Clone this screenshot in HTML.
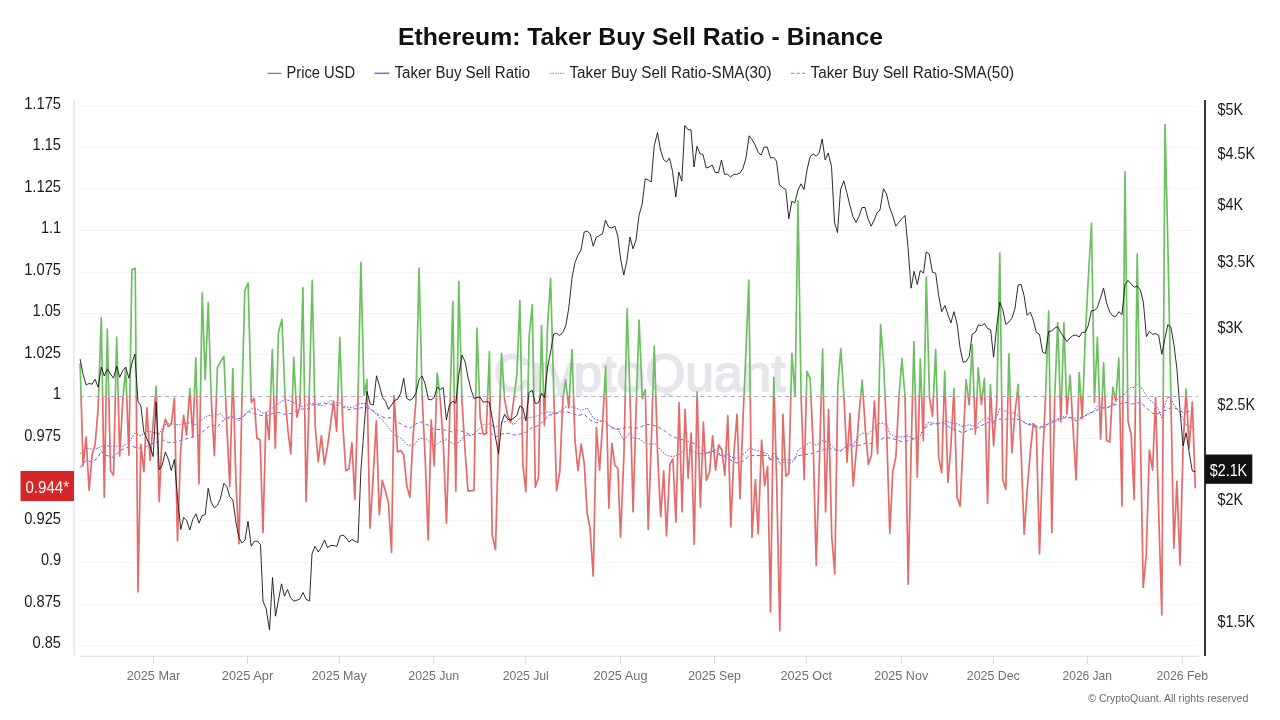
<!DOCTYPE html>
<html lang="en"><head><meta charset="utf-8"><title>Ethereum: Taker Buy Sell Ratio - Binance</title>
<style>
html,body{margin:0;padding:0;background:#fff;}
body{width:1280px;height:720px;overflow:hidden;font-family:"Liberation Sans", sans-serif;}
svg{display:block;}
text{font-family:"Liberation Sans", sans-serif;}
.yl{font-size:16.5px;fill:#1a1a1a;text-anchor:end;}
.yr{font-size:16.5px;fill:#1a1a1a;text-anchor:start;}
.xl{font-size:12.6px;fill:#6e7079;text-anchor:middle;}
.lg{font-size:16px;fill:#222;}
</style></head><body>
<svg width="1280" height="720" viewBox="0 0 1280 720">
<defs>
<clipPath id="up"><rect x="70" y="90" width="1140" height="306.20"/></clipPath>
<clipPath id="dn"><rect x="70" y="396.20" width="1140" height="300"/></clipPath>
</defs>
<rect width="1280" height="720" fill="#ffffff"/>

<text x="640.5" y="45" text-anchor="middle" font-size="24.5" font-weight="700" fill="#111" textLength="485" lengthAdjust="spacingAndGlyphs">Ethereum: Taker Buy Sell Ratio - Binance</text>
<line x1="267.5" y1="73.3" x2="281.5" y2="73.3" stroke="#333" stroke-width="0.8"/>
<text class="lg" x="286.5" y="77.5" textLength="68.5" lengthAdjust="spacingAndGlyphs">Price USD</text>
<line x1="374.5" y1="73.3" x2="389.5" y2="73.3" stroke="#7b68ee" stroke-width="1.5"/>
<text class="lg" x="394.5" y="77.5" textLength="135.5" lengthAdjust="spacingAndGlyphs">Taker Buy Sell Ratio</text>
<line x1="550" y1="73.3" x2="564" y2="73.3" stroke="#8c7cf0" stroke-width="1" stroke-dasharray="1.5 1"/>
<text class="lg" x="569.5" y="77.5" textLength="202" lengthAdjust="spacingAndGlyphs">Taker Buy Sell Ratio-SMA(30)</text>
<line x1="791" y1="73.3" x2="805" y2="73.3" stroke="#8c7cf0" stroke-width="1" stroke-dasharray="3.5 2"/>
<text class="lg" x="810.5" y="77.5" textLength="203.5" lengthAdjust="spacingAndGlyphs">Taker Buy Sell Ratio-SMA(50)</text>
<line x1="80" y1="645.50" x2="1198" y2="645.50" stroke="#f5f5f8" stroke-width="1"/>
<text class="yl" x="61" y="648.40" textLength="28.4" lengthAdjust="spacingAndGlyphs">0.85</text>
<line x1="80" y1="604.50" x2="1198" y2="604.50" stroke="#f5f5f8" stroke-width="1"/>
<text class="yl" x="61" y="606.90" textLength="36.8" lengthAdjust="spacingAndGlyphs">0.875</text>
<line x1="80" y1="562.50" x2="1198" y2="562.50" stroke="#f5f5f8" stroke-width="1"/>
<text class="yl" x="61" y="565.40" textLength="20.1" lengthAdjust="spacingAndGlyphs">0.9</text>
<line x1="80" y1="520.50" x2="1198" y2="520.50" stroke="#f5f5f8" stroke-width="1"/>
<text class="yl" x="61" y="523.90" textLength="36.8" lengthAdjust="spacingAndGlyphs">0.925</text>
<line x1="80" y1="479.50" x2="1198" y2="479.50" stroke="#f5f5f8" stroke-width="1"/>
<line x1="80" y1="438.50" x2="1198" y2="438.50" stroke="#f5f5f8" stroke-width="1"/>
<text class="yl" x="61" y="440.90" textLength="36.8" lengthAdjust="spacingAndGlyphs">0.975</text>
<text class="yl" x="61" y="399.40" textLength="8.3" lengthAdjust="spacingAndGlyphs">1</text>
<line x1="80" y1="354.50" x2="1198" y2="354.50" stroke="#f5f5f8" stroke-width="1"/>
<text class="yl" x="61" y="357.90" textLength="36.8" lengthAdjust="spacingAndGlyphs">1.025</text>
<line x1="80" y1="313.50" x2="1198" y2="313.50" stroke="#f5f5f8" stroke-width="1"/>
<text class="yl" x="61" y="316.40" textLength="28.4" lengthAdjust="spacingAndGlyphs">1.05</text>
<line x1="80" y1="272.50" x2="1198" y2="272.50" stroke="#f5f5f8" stroke-width="1"/>
<text class="yl" x="61" y="274.90" textLength="36.8" lengthAdjust="spacingAndGlyphs">1.075</text>
<line x1="80" y1="230.50" x2="1198" y2="230.50" stroke="#f5f5f8" stroke-width="1"/>
<text class="yl" x="61" y="233.40" textLength="20.1" lengthAdjust="spacingAndGlyphs">1.1</text>
<line x1="80" y1="188.50" x2="1198" y2="188.50" stroke="#f5f5f8" stroke-width="1"/>
<text class="yl" x="61" y="191.90" textLength="36.8" lengthAdjust="spacingAndGlyphs">1.125</text>
<line x1="80" y1="147.50" x2="1198" y2="147.50" stroke="#f5f5f8" stroke-width="1"/>
<text class="yl" x="61" y="150.40" textLength="28.4" lengthAdjust="spacingAndGlyphs">1.15</text>
<line x1="80" y1="106.50" x2="1198" y2="106.50" stroke="#f5f5f8" stroke-width="1"/>
<text class="yl" x="61" y="108.90" textLength="36.8" lengthAdjust="spacingAndGlyphs">1.175</text>
<text clip-path="url(#up)" x="493.5" y="391.3" font-size="52" fill="#e5e5eb" stroke="#e5e5eb" stroke-width="1.8" stroke-linejoin="round" textLength="292" lengthAdjust="spacingAndGlyphs">CryptoQuant</text>
<line x1="74" y1="100" x2="74" y2="655.5" stroke="#d5d5e3" stroke-width="0.9"/>
<line x1="80" y1="656.25" x2="1199" y2="656.25" stroke="#d5d5e3" stroke-width="0.9"/>
<line x1="153.50" y1="656" x2="153.50" y2="664" stroke="#d5d5e3" stroke-width="1"/>
<text class="xl" x="153.50" y="680" textLength="53.5" lengthAdjust="spacingAndGlyphs">2025 Mar</text>
<line x1="247.50" y1="656" x2="247.50" y2="664" stroke="#d5d5e3" stroke-width="1"/>
<text class="xl" x="247.50" y="680" textLength="51.5" lengthAdjust="spacingAndGlyphs">2025 Apr</text>
<line x1="339.25" y1="656" x2="339.25" y2="664" stroke="#d5d5e3" stroke-width="1"/>
<text class="xl" x="339.25" y="680" textLength="55.0" lengthAdjust="spacingAndGlyphs">2025 May</text>
<line x1="433.75" y1="656" x2="433.75" y2="664" stroke="#d5d5e3" stroke-width="1"/>
<text class="xl" x="433.75" y="680" textLength="51.0" lengthAdjust="spacingAndGlyphs">2025 Jun</text>
<line x1="525.75" y1="656" x2="525.75" y2="664" stroke="#d5d5e3" stroke-width="1"/>
<text class="xl" x="525.75" y="680" textLength="46.0" lengthAdjust="spacingAndGlyphs">2025 Jul</text>
<line x1="620.50" y1="656" x2="620.50" y2="664" stroke="#d5d5e3" stroke-width="1"/>
<text class="xl" x="620.50" y="680" textLength="54.0" lengthAdjust="spacingAndGlyphs">2025 Aug</text>
<line x1="714.50" y1="656" x2="714.50" y2="664" stroke="#d5d5e3" stroke-width="1"/>
<text class="xl" x="714.50" y="680" textLength="53.0" lengthAdjust="spacingAndGlyphs">2025 Sep</text>
<line x1="806.25" y1="656" x2="806.25" y2="664" stroke="#d5d5e3" stroke-width="1"/>
<text class="xl" x="806.25" y="680" textLength="51.5" lengthAdjust="spacingAndGlyphs">2025 Oct</text>
<line x1="901.25" y1="656" x2="901.25" y2="664" stroke="#d5d5e3" stroke-width="1"/>
<text class="xl" x="901.25" y="680" textLength="54.0" lengthAdjust="spacingAndGlyphs">2025 Nov</text>
<line x1="993.25" y1="656" x2="993.25" y2="664" stroke="#d5d5e3" stroke-width="1"/>
<text class="xl" x="993.25" y="680" textLength="53.0" lengthAdjust="spacingAndGlyphs">2025 Dec</text>
<line x1="1087.25" y1="656" x2="1087.25" y2="664" stroke="#d5d5e3" stroke-width="1"/>
<text class="xl" x="1087.25" y="680" textLength="49.5" lengthAdjust="spacingAndGlyphs">2026 Jan</text>
<line x1="1182.25" y1="656" x2="1182.25" y2="664" stroke="#d5d5e3" stroke-width="1"/>
<text class="xl" x="1182.25" y="680" textLength="51.5" lengthAdjust="spacingAndGlyphs">2026 Feb</text>
<line x1="80.5" y1="396.50" x2="1198" y2="396.50" stroke="#b0b0c8" stroke-width="1" stroke-dasharray="4.2 3.55" stroke-dashoffset="0.75"/>
<polyline fill="none" stroke="#6c5cf6" stroke-width="1" stroke-dasharray="1.7 1.3" points="80.1,453.8 86.1,448.1 92.1,449.1 98.1,448.1 104.1,445.3 110.5,446.2 116.3,446.2 122.9,446.2 128.9,442.5 134.9,433.1 140.9,435.9 146.9,431.2 152.9,432.2 159.2,434.1 164.1,424.7 169.8,423.4 177.2,424.7 183.8,423.8 189.8,422.8 196.0,424.7 201.6,420.0 208.2,415.3 214.8,416.2 220.4,413.4 226.0,420.0 232.8,416.2 239.1,420.9 244.8,414.4 251.3,408.8 256.9,408.8 263.5,413.4 269.1,410.6 275.3,405.9 281.9,401.2 285.1,399.4 290.9,401.2 296.9,404.1 302.9,406.9 309.1,404.1 312.2,403.1 318.2,405.0 324.4,405.9 330.6,400.3 333.6,402.2 339.8,403.1 345.8,406.9 351.9,407.8 357.9,404.1 364.1,403.1 366.9,404.1 370.3,408.8 376.3,414.4 382.3,420.0 388.5,427.5 394.5,435.0 400.7,437.8 406.7,444.4 412.9,446.2 419.1,438.8 425.1,437.8 431.2,443.4 434.2,446.2 440.2,441.6 446.4,439.7 452.8,443.4 455.8,445.3 462.0,438.8 465.0,435.0 471.0,435.9 477.0,431.2 483.2,424.7 489.4,423.8 495.4,427.5 501.6,422.8 507.6,420.9 513.8,424.7 519.9,418.1 525.9,418.1 532.3,417.2 538.5,415.3 541.4,413.4 544.5,413.4 547.6,411.6 553.6,413.4 559.8,411.6 565.8,406.9 572.0,406.9 578.0,408.8 581.2,410.6 587.2,407.8 593.4,418.1 599.6,420.9 605.6,420.9 611.8,428.4 617.9,429.4 623.9,440.6 630.1,432.2 633.1,437.8 639.1,438.8 645.3,443.4 651.5,444.4 654.5,443.4 660.7,450.0 666.7,455.6 672.9,456.6 679.1,454.7 685.1,449.1 691.2,450.0 697.2,453.8 703.4,453.8 709.6,452.8 715.6,450.0 721.8,455.6 727.8,454.7 734.0,458.4 740.0,457.5 746.2,451.9 749.2,448.1 755.4,450.0 761.6,451.9 767.6,453.8 770.7,460.3 773.7,452.8 776.7,455.6 779.7,464.1 785.9,461.2 788.9,464.1 795.1,459.4 798.1,450.0 804.2,446.2 810.2,442.5 816.4,445.3 822.6,440.6 828.6,442.5 834.8,449.1 840.8,450.9 847.0,445.3 853.2,444.4 859.2,435.9 862.2,433.1 868.4,434.1 874.4,427.5 880.6,422.8 886.8,424.7 889.8,434.1 895.9,436.9 901.9,436.9 908.1,435.9 914.3,438.8 920.3,435.9 926.5,423.8 929.5,421.9 935.7,423.8 941.7,422.8 944.9,420.9 950.9,422.8 957.1,423.8 963.1,426.6 969.2,424.7 975.4,426.6 981.4,420.9 984.4,418.1 990.6,419.1 993.6,423.8 999.8,408.8 1002.8,409.7 1008.9,413.4 1014.9,412.5 1021.1,420.0 1027.1,423.8 1033.3,423.8 1039.5,428.4 1045.5,426.6 1051.7,420.9 1057.7,420.9 1063.9,416.2 1070.1,418.1 1076.1,418.1 1082.2,417.2 1088.2,414.4 1094.4,410.6 1097.4,405.9 1103.6,408.8 1109.8,406.9 1115.8,401.2 1118.8,398.4 1123.5,396.2 1128.0,389.5 1131.2,387.2 1134.2,387.6 1137.2,383.9 1140.4,386.7 1143.4,390.4 1146.9,396.2 1149.4,399.4 1155.6,405.0 1158.6,409.7 1161.8,418.1 1164.8,405.0 1167.8,396.6 1170.9,398.4 1173.9,405.0 1179.9,412.5 1186.1,424.7 1192.3,427.5 1195.3,430.3"/>
<polyline fill="none" stroke="#6c5cf6" stroke-width="1" stroke-dasharray="3.6 2.6" points="80.1,467.8 86.1,460.3 92.1,462.2 98.1,457.5 101.3,450.9 104.1,454.7 110.5,456.6 113.5,457.5 119.7,450.9 125.7,448.1 131.9,446.2 137.9,448.1 143.9,448.1 150.1,444.4 156.2,442.5 162.2,439.7 168.4,442.5 174.4,442.5 180.6,440.6 186.6,438.8 192.8,436.9 199.0,435.0 205.4,429.4 211.2,424.7 217.4,426.6 223.9,420.0 229.8,416.2 235.9,419.1 241.9,418.1 248.1,411.6 254.1,413.4 260.1,415.3 266.1,416.2 272.3,413.4 278.5,412.5 285.1,414.4 290.9,413.4 296.9,410.6 302.9,408.8 309.1,408.8 312.2,405.0 318.2,404.1 324.4,403.1 330.6,404.1 336.6,405.0 342.8,406.9 348.9,409.7 354.9,408.8 360.9,407.8 366.9,407.8 373.3,410.6 379.3,415.3 385.5,418.1 391.5,417.8 397.5,421.9 403.7,425.6 409.9,428.4 415.9,423.8 422.2,421.9 428.4,425.6 434.2,429.4 440.2,429.4 446.4,430.3 452.8,432.2 458.8,430.3 465.0,432.2 471.0,435.0 477.0,433.1 483.2,434.1 489.4,432.2 495.4,436.9 501.6,434.1 507.6,433.1 513.8,435.0 519.9,434.1 525.9,432.2 532.3,427.5 538.5,425.6 541.4,422.8 544.5,420.9 547.6,415.3 553.6,414.4 559.8,412.5 565.8,411.6 572.0,413.4 578.0,415.3 584.2,414.4 590.4,420.0 596.4,422.8 602.6,420.9 608.8,425.6 614.8,428.4 620.9,429.4 627.1,426.6 633.1,428.4 639.1,427.5 645.3,424.7 651.5,424.7 657.5,426.6 663.7,430.3 669.9,435.0 675.9,437.8 682.1,439.7 688.1,441.6 694.2,443.4 700.4,448.1 706.4,452.8 712.6,450.9 718.6,454.7 724.8,456.6 731.0,460.3 737.0,463.1 743.2,461.2 749.2,455.6 755.4,455.6 761.6,455.6 767.6,455.6 770.7,461.2 773.7,456.6 779.7,459.4 785.9,459.4 791.9,460.3 798.1,455.6 804.2,454.7 810.2,453.8 816.4,451.9 822.6,450.0 828.6,448.1 834.8,450.0 840.8,450.9 847.0,446.2 853.2,446.2 859.2,445.3 865.4,443.4 871.4,443.4 877.6,441.6 883.8,437.8 889.8,437.8 895.9,439.7 901.9,441.6 908.1,440.6 914.3,438.8 920.3,434.1 926.5,426.6 932.5,423.8 938.7,423.8 944.9,423.8 950.9,428.4 957.1,430.3 963.1,433.1 969.2,429.4 975.4,428.4 981.4,425.6 987.6,422.8 993.6,421.9 999.8,419.1 1002.8,419.1 1008.9,419.1 1014.9,419.1 1021.1,420.0 1027.1,424.7 1033.3,424.7 1039.5,427.5 1045.5,424.7 1051.7,422.8 1057.7,419.1 1063.9,418.1 1070.1,417.2 1076.1,420.9 1082.2,418.1 1088.2,413.4 1094.4,411.6 1100.6,407.8 1106.6,407.8 1112.8,405.0 1118.8,404.1 1125.0,402.2 1131.2,404.1 1137.2,403.1 1140.4,402.2 1146.4,407.8 1152.6,413.4 1158.6,413.4 1164.8,410.6 1170.9,407.8 1176.9,408.8 1183.1,412.5 1189.1,411.6 1193.8,408.8"/>
<polyline clip-path="url(#up)" fill="none" stroke="#6cc060" stroke-width="1.7" stroke-linejoin="round" points="80.1,363.2 83.1,465.9 86.1,437.2 89.1,490.3 92.1,454.7 95.1,444.8 98.1,408.8 101.3,317.7 104.3,497.2 107.3,329.1 110.5,470.6 113.5,475.3 116.7,337.0 119.7,456.0 122.7,401.2 125.7,368.9 128.9,455.2 131.9,269.5 135.2,268.4 138.0,591.8 140.9,444.4 143.9,471.6 146.9,407.8 150.1,460.3 153.1,423.8 156.2,386.3 159.2,501.6 162.2,433.1 165.4,419.1 168.4,426.6 171.4,423.8 174.4,398.4 177.5,540.8 180.6,451.9 183.6,415.3 186.6,435.0 189.8,388.6 192.8,436.9 195.8,357.8 199.0,483.8 202.2,292.9 205.2,379.8 208.2,302.7 211.2,397.5 214.4,455.6 217.4,367.6 220.8,361.4 223.9,356.5 226.9,427.5 229.8,486.6 232.8,368.5 235.9,480.0 239.0,543.8 241.9,401.2 244.8,290.5 248.1,283.0 251.3,402.2 254.1,398.4 256.9,438.4 260.1,439.7 263.0,532.5 266.1,412.5 269.1,439.7 272.3,349.4 275.3,448.1 278.5,332.3 281.9,319.2 285.1,397.5 287.9,430.3 290.9,453.8 293.7,357.4 296.9,417.2 299.9,405.9 302.9,287.7 306.1,501.6 309.1,401.2 312.2,280.4 315.2,425.6 318.2,461.8 321.4,435.6 324.4,464.6 327.6,446.2 330.6,423.8 333.6,401.2 336.6,431.2 339.8,337.4 342.8,423.8 345.8,470.6 348.9,469.1 351.9,442.9 354.9,499.3 357.9,401.2 360.9,262.4 364.1,395.5 366.9,379.6 370.0,528.2 373.3,474.4 376.3,420.9 379.3,514.7 382.3,480.4 385.5,491.2 388.5,503.4 391.5,552.5 394.1,395.5 397.5,451.9 400.7,450.4 403.7,454.7 406.7,485.6 409.9,497.2 412.9,438.8 415.9,401.2 419.1,268.2 422.2,397.5 425.4,463.1 428.2,540.0 431.2,420.0 434.2,465.9 437.2,373.0 440.2,398.4 443.4,446.2 446.5,523.2 449.4,427.5 452.8,301.4 455.8,491.2 458.8,281.3 462.0,401.2 465.0,450.0 468.0,491.2 471.0,490.7 474.0,490.3 477.0,328.2 480.2,418.1 483.2,434.4 486.2,433.5 489.4,351.6 492.2,535.0 495.5,549.5 498.6,436.9 501.6,353.3 504.6,399.4 507.6,415.3 510.8,422.2 513.8,399.4 516.9,374.5 519.9,300.6 522.9,465.0 525.9,491.8 529.1,337.0 532.3,304.6 535.3,487.1 538.5,477.2 541.5,325.4 544.4,425.6 547.6,325.8 550.6,278.5 554.0,401.2 556.6,490.7 559.8,471.6 562.8,399.4 565.6,379.8 568.8,407.8 572.0,349.4 575.0,440.6 578.0,470.6 581.2,444.0 584.2,463.1 587.2,513.8 590.0,527.5 593.2,576.2 596.4,427.5 599.6,470.2 602.6,423.8 605.6,366.2 608.8,508.1 611.8,443.4 614.8,465.0 617.9,468.8 620.5,537.5 623.9,455.6 627.1,308.9 630.1,398.4 633.1,511.9 636.1,408.8 639.1,320.1 642.3,398.4 645.3,389.5 648.2,529.5 651.5,436.9 654.3,346.0 657.5,451.9 660.7,516.6 663.7,471.0 666.5,536.0 669.9,464.1 672.9,459.0 675.9,522.2 679.1,402.8 682.1,511.9 685.1,409.3 688.1,478.1 691.2,433.1 694.2,544.5 697.1,391.9 700.4,507.2 703.4,422.2 706.4,480.4 709.6,471.6 712.6,435.9 715.6,470.2 718.6,444.8 721.8,450.0 724.8,475.3 727.8,415.7 730.8,527.0 734.0,451.9 737.0,414.4 740.0,498.8 743.2,414.4 746.0,350.1 748.8,280.2 752.0,537.5 755.4,479.6 758.2,533.8 761.6,440.2 764.6,485.6 767.6,466.5 770.5,612.0 773.8,377.3 776.7,483.8 779.8,630.8 782.9,414.4 785.9,476.2 788.9,473.4 791.9,353.3 795.1,396.2 798.0,200.5 801.1,397.5 804.2,479.6 806.9,371.3 810.2,378.6 813.4,451.9 816.2,565.5 819.4,461.2 822.6,348.8 825.6,511.9 828.6,409.7 831.8,537.5 834.8,574.0 837.8,385.8 840.8,348.6 844.0,397.5 847.0,462.2 850.0,413.4 853.2,486.0 856.2,451.9 859.2,412.5 862.2,380.1 865.4,430.3 868.4,464.4 871.4,455.6 874.4,401.2 877.6,453.8 880.6,324.4 883.8,367.0 886.8,436.9 889.8,533.2 892.8,471.6 895.9,456.6 898.9,397.5 901.9,358.4 905.1,397.5 908.2,584.2 911.1,451.9 913.9,341.5 917.3,477.2 920.3,358.9 923.3,440.6 926.3,277.0 929.5,397.5 932.5,416.2 935.7,349.6 938.7,457.5 941.7,472.5 944.7,371.1 947.9,482.4 950.9,446.2 953.9,388.6 957.1,497.2 960.1,506.2 963.1,442.5 966.1,379.6 969.2,405.0 972.2,344.5 975.4,434.1 978.2,367.9 981.4,404.1 984.4,378.6 987.6,503.4 990.4,384.8 993.6,445.7 996.8,401.2 999.8,253.0 1002.8,480.0 1005.8,489.4 1008.9,353.9 1011.9,452.8 1014.9,414.4 1018.1,384.4 1021.1,451.9 1024.2,534.2 1027.1,491.2 1030.3,451.9 1033.3,423.8 1036.3,428.4 1039.5,553.8 1042.5,461.2 1045.5,397.5 1048.7,311.1 1051.8,532.5 1054.7,397.5 1057.7,322.6 1060.9,421.9 1063.9,322.9 1066.9,414.0 1070.1,375.1 1073.1,429.4 1076.1,480.0 1079.2,372.6 1082.2,418.1 1085.2,338.9 1088.2,279.8 1091.5,223.0 1094.4,402.2 1097.4,337.0 1100.6,439.1 1103.6,362.9 1106.6,440.6 1109.8,442.1 1112.8,387.2 1115.8,401.2 1118.8,358.0 1122.0,505.9 1125.0,171.8 1128.0,420.9 1131.2,435.0 1134.2,499.7 1137.2,254.2 1140.4,436.9 1143.2,587.5 1146.2,556.0 1149.4,450.0 1152.6,470.2 1155.6,397.5 1158.6,510.0 1161.8,615.0 1165.0,124.5 1168.0,250.0 1170.9,397.5 1173.8,548.2 1176.9,481.3 1180.0,565.0 1183.1,446.2 1186.1,389.1 1189.1,448.1 1192.3,402.2 1195.3,488.4"/>
<polyline clip-path="url(#dn)" fill="none" stroke="#e56a6a" stroke-width="1.7" stroke-linejoin="round" points="80.1,363.2 83.1,465.9 86.1,437.2 89.1,490.3 92.1,454.7 95.1,444.8 98.1,408.8 101.3,317.7 104.3,497.2 107.3,329.1 110.5,470.6 113.5,475.3 116.7,337.0 119.7,456.0 122.7,401.2 125.7,368.9 128.9,455.2 131.9,269.5 135.2,268.4 138.0,591.8 140.9,444.4 143.9,471.6 146.9,407.8 150.1,460.3 153.1,423.8 156.2,386.3 159.2,501.6 162.2,433.1 165.4,419.1 168.4,426.6 171.4,423.8 174.4,398.4 177.5,540.8 180.6,451.9 183.6,415.3 186.6,435.0 189.8,388.6 192.8,436.9 195.8,357.8 199.0,483.8 202.2,292.9 205.2,379.8 208.2,302.7 211.2,397.5 214.4,455.6 217.4,367.6 220.8,361.4 223.9,356.5 226.9,427.5 229.8,486.6 232.8,368.5 235.9,480.0 239.0,543.8 241.9,401.2 244.8,290.5 248.1,283.0 251.3,402.2 254.1,398.4 256.9,438.4 260.1,439.7 263.0,532.5 266.1,412.5 269.1,439.7 272.3,349.4 275.3,448.1 278.5,332.3 281.9,319.2 285.1,397.5 287.9,430.3 290.9,453.8 293.7,357.4 296.9,417.2 299.9,405.9 302.9,287.7 306.1,501.6 309.1,401.2 312.2,280.4 315.2,425.6 318.2,461.8 321.4,435.6 324.4,464.6 327.6,446.2 330.6,423.8 333.6,401.2 336.6,431.2 339.8,337.4 342.8,423.8 345.8,470.6 348.9,469.1 351.9,442.9 354.9,499.3 357.9,401.2 360.9,262.4 364.1,395.5 366.9,379.6 370.0,528.2 373.3,474.4 376.3,420.9 379.3,514.7 382.3,480.4 385.5,491.2 388.5,503.4 391.5,552.5 394.1,395.5 397.5,451.9 400.7,450.4 403.7,454.7 406.7,485.6 409.9,497.2 412.9,438.8 415.9,401.2 419.1,268.2 422.2,397.5 425.4,463.1 428.2,540.0 431.2,420.0 434.2,465.9 437.2,373.0 440.2,398.4 443.4,446.2 446.5,523.2 449.4,427.5 452.8,301.4 455.8,491.2 458.8,281.3 462.0,401.2 465.0,450.0 468.0,491.2 471.0,490.7 474.0,490.3 477.0,328.2 480.2,418.1 483.2,434.4 486.2,433.5 489.4,351.6 492.2,535.0 495.5,549.5 498.6,436.9 501.6,353.3 504.6,399.4 507.6,415.3 510.8,422.2 513.8,399.4 516.9,374.5 519.9,300.6 522.9,465.0 525.9,491.8 529.1,337.0 532.3,304.6 535.3,487.1 538.5,477.2 541.5,325.4 544.4,425.6 547.6,325.8 550.6,278.5 554.0,401.2 556.6,490.7 559.8,471.6 562.8,399.4 565.6,379.8 568.8,407.8 572.0,349.4 575.0,440.6 578.0,470.6 581.2,444.0 584.2,463.1 587.2,513.8 590.0,527.5 593.2,576.2 596.4,427.5 599.6,470.2 602.6,423.8 605.6,366.2 608.8,508.1 611.8,443.4 614.8,465.0 617.9,468.8 620.5,537.5 623.9,455.6 627.1,308.9 630.1,398.4 633.1,511.9 636.1,408.8 639.1,320.1 642.3,398.4 645.3,389.5 648.2,529.5 651.5,436.9 654.3,346.0 657.5,451.9 660.7,516.6 663.7,471.0 666.5,536.0 669.9,464.1 672.9,459.0 675.9,522.2 679.1,402.8 682.1,511.9 685.1,409.3 688.1,478.1 691.2,433.1 694.2,544.5 697.1,391.9 700.4,507.2 703.4,422.2 706.4,480.4 709.6,471.6 712.6,435.9 715.6,470.2 718.6,444.8 721.8,450.0 724.8,475.3 727.8,415.7 730.8,527.0 734.0,451.9 737.0,414.4 740.0,498.8 743.2,414.4 746.0,350.1 748.8,280.2 752.0,537.5 755.4,479.6 758.2,533.8 761.6,440.2 764.6,485.6 767.6,466.5 770.5,612.0 773.8,377.3 776.7,483.8 779.8,630.8 782.9,414.4 785.9,476.2 788.9,473.4 791.9,353.3 795.1,396.2 798.0,200.5 801.1,397.5 804.2,479.6 806.9,371.3 810.2,378.6 813.4,451.9 816.2,565.5 819.4,461.2 822.6,348.8 825.6,511.9 828.6,409.7 831.8,537.5 834.8,574.0 837.8,385.8 840.8,348.6 844.0,397.5 847.0,462.2 850.0,413.4 853.2,486.0 856.2,451.9 859.2,412.5 862.2,380.1 865.4,430.3 868.4,464.4 871.4,455.6 874.4,401.2 877.6,453.8 880.6,324.4 883.8,367.0 886.8,436.9 889.8,533.2 892.8,471.6 895.9,456.6 898.9,397.5 901.9,358.4 905.1,397.5 908.2,584.2 911.1,451.9 913.9,341.5 917.3,477.2 920.3,358.9 923.3,440.6 926.3,277.0 929.5,397.5 932.5,416.2 935.7,349.6 938.7,457.5 941.7,472.5 944.7,371.1 947.9,482.4 950.9,446.2 953.9,388.6 957.1,497.2 960.1,506.2 963.1,442.5 966.1,379.6 969.2,405.0 972.2,344.5 975.4,434.1 978.2,367.9 981.4,404.1 984.4,378.6 987.6,503.4 990.4,384.8 993.6,445.7 996.8,401.2 999.8,253.0 1002.8,480.0 1005.8,489.4 1008.9,353.9 1011.9,452.8 1014.9,414.4 1018.1,384.4 1021.1,451.9 1024.2,534.2 1027.1,491.2 1030.3,451.9 1033.3,423.8 1036.3,428.4 1039.5,553.8 1042.5,461.2 1045.5,397.5 1048.7,311.1 1051.8,532.5 1054.7,397.5 1057.7,322.6 1060.9,421.9 1063.9,322.9 1066.9,414.0 1070.1,375.1 1073.1,429.4 1076.1,480.0 1079.2,372.6 1082.2,418.1 1085.2,338.9 1088.2,279.8 1091.5,223.0 1094.4,402.2 1097.4,337.0 1100.6,439.1 1103.6,362.9 1106.6,440.6 1109.8,442.1 1112.8,387.2 1115.8,401.2 1118.8,358.0 1122.0,505.9 1125.0,171.8 1128.0,420.9 1131.2,435.0 1134.2,499.7 1137.2,254.2 1140.4,436.9 1143.2,587.5 1146.2,556.0 1149.4,450.0 1152.6,470.2 1155.6,397.5 1158.6,510.0 1161.8,615.0 1165.0,124.5 1168.0,250.0 1170.9,397.5 1173.8,548.2 1176.9,481.3 1180.0,565.0 1183.1,446.2 1186.1,389.1 1189.1,448.1 1192.3,402.2 1195.3,488.4"/>
<polyline fill="none" stroke="#141414" stroke-width="0.9" stroke-linejoin="round" points="80.1,359.1 83.1,374.5 86.1,384.8 89.1,383.5 92.1,384.2 95.1,379.2 98.1,387.2 101.3,367.0 104.3,376.0 107.3,368.9 110.5,374.1 113.5,378.2 116.7,366.1 119.7,377.3 122.7,370.8 125.7,367.0 128.9,378.2 131.9,363.2 134.9,354.2 137.9,401.2 140.9,405.9 143.9,432.2 146.9,438.8 150.1,446.2 153.1,456.6 156.2,402.2 159.2,469.7 162.2,465.0 165.4,451.9 168.4,459.4 171.4,470.6 174.4,459.4 177.4,496.9 180.8,529.5 183.6,517.5 186.6,520.3 189.8,530.0 192.8,519.4 196.0,513.8 199.0,523.1 202.2,515.6 205.2,514.7 208.2,488.4 211.2,502.5 214.4,507.8 217.4,505.3 220.4,498.8 223.9,483.2 226.9,486.6 229.8,496.9 232.8,499.7 236.2,523.8 239.0,537.5 241.8,543.0 245.0,540.0 248.0,521.2 251.2,546.2 254.5,541.2 257.5,541.2 260.5,544.5 263.0,601.2 266.2,608.8 269.5,630.0 272.5,577.5 275.5,616.2 278.5,600.0 281.5,583.8 284.5,596.2 287.5,589.5 290.5,597.5 293.8,601.2 297.5,600.0 300.0,598.8 303.0,592.5 306.2,599.5 309.5,600.8 312.0,553.8 315.0,546.2 318.2,552.0 321.2,547.5 324.5,540.0 327.5,547.5 330.8,545.5 333.8,545.5 336.8,546.5 340.0,536.2 343.0,535.0 346.0,537.5 349.0,542.0 352.0,539.5 355.0,541.2 358.0,542.5 360.9,470.6 364.1,427.5 366.9,391.4 370.3,404.1 373.3,405.0 376.5,375.8 379.5,385.8 382.5,397.5 385.5,401.2 388.5,409.3 391.5,405.0 394.5,400.3 397.5,399.4 400.7,393.2 403.7,378.2 406.7,398.4 409.9,400.3 412.9,398.4 415.9,393.2 419.1,379.2 422.1,376.0 425.1,383.9 428.4,399.4 431.2,399.8 434.2,397.5 437.2,387.2 440.2,389.5 443.2,387.6 446.4,420.0 449.4,405.0 452.8,401.2 455.8,403.1 458.8,374.5 462.0,355.2 465.0,361.4 468.2,378.2 471.0,389.5 474.0,398.4 477.0,397.5 480.2,397.1 483.2,402.2 486.2,401.6 489.4,402.2 492.4,419.1 495.4,436.9 498.6,453.8 501.6,422.8 504.6,414.4 507.6,419.1 510.8,420.0 513.8,418.1 516.9,415.3 519.9,405.9 522.9,407.8 525.9,420.9 529.1,392.3 532.3,390.4 535.3,403.5 538.5,402.8 541.5,393.2 544.5,397.5 547.6,367.0 550.6,352.0 553.6,334.2 556.6,333.2 559.6,335.7 562.8,332.3 565.8,325.8 568.8,307.9 572.0,277.9 575.0,262.5 578.0,255.0 581.0,250.0 584.2,232.0 587.2,231.2 590.2,233.8 593.2,246.2 596.2,237.5 599.5,235.5 602.5,233.8 605.5,220.0 608.5,227.0 611.5,228.0 614.8,226.2 617.8,236.2 620.8,260.0 623.8,275.0 626.8,261.2 630.0,237.0 633.0,248.8 636.0,240.0 639.0,215.5 642.2,203.8 645.2,178.8 648.2,180.0 651.2,182.0 654.2,146.2 657.5,132.5 660.5,150.0 663.5,159.5 666.5,162.0 669.5,158.0 672.5,171.2 675.8,197.0 678.8,172.0 681.8,181.2 684.8,125.5 687.8,129.5 691.0,130.0 694.0,167.0 697.0,146.2 700.0,153.8 703.0,154.5 706.2,168.0 709.2,167.0 712.2,165.0 715.2,172.5 718.5,172.5 721.5,160.0 724.5,174.2 727.5,174.2 730.5,177.0 733.8,174.5 736.8,174.2 739.8,173.2 742.8,168.8 745.8,158.8 749.2,135.8 752.2,140.0 755.2,145.0 758.2,152.5 761.2,155.0 764.2,147.0 767.2,147.0 770.5,158.0 773.5,157.5 776.5,161.2 779.5,185.0 782.5,187.5 785.8,189.5 788.8,218.8 791.8,201.2 794.8,203.0 798.0,190.0 801.0,183.8 804.0,189.5 807.0,170.0 810.0,157.0 813.0,153.8 816.2,156.2 819.2,153.0 822.2,138.8 825.2,160.0 828.2,153.0 831.5,166.2 834.5,222.5 837.5,232.5 840.5,190.0 843.8,180.8 846.8,192.5 849.8,205.0 852.8,216.2 856.0,222.5 859.0,216.2 862.0,207.5 865.0,207.5 868.0,218.8 871.2,226.2 874.2,220.0 877.2,212.5 880.0,210.0 883.5,188.8 886.5,193.8 889.5,207.0 892.8,216.2 895.8,226.2 898.8,222.5 901.8,218.8 905.0,215.5 908.0,247.5 911.1,288.2 914.1,271.4 917.3,284.5 920.3,270.4 923.5,273.2 926.2,252.0 929.2,253.8 932.5,272.3 935.7,273.2 938.7,295.8 941.7,311.7 944.9,305.5 947.9,314.5 950.9,322.9 953.9,311.7 957.1,323.9 960.1,348.2 963.1,362.3 966.2,361.4 969.2,356.7 972.2,334.2 975.4,332.3 978.4,324.8 981.4,325.8 984.4,323.5 987.6,328.6 990.6,329.5 993.6,357.2 996.8,325.8 999.8,302.3 1002.8,309.8 1005.8,324.4 1008.9,322.0 1011.9,318.2 1014.9,308.9 1018.1,284.9 1021.1,284.5 1024.1,295.8 1027.1,315.4 1030.3,312.2 1033.3,320.1 1036.3,332.3 1039.5,334.2 1042.5,352.0 1045.5,353.5 1048.7,331.4 1051.7,331.0 1054.7,328.0 1057.7,326.7 1060.9,332.9 1063.9,337.0 1066.9,341.7 1070.1,337.9 1073.1,335.5 1076.1,335.1 1079.2,337.0 1082.2,332.3 1085.2,332.3 1088.2,325.8 1091.4,310.8 1094.4,310.4 1097.4,307.4 1100.6,297.6 1103.6,288.2 1106.6,303.2 1109.8,312.2 1112.8,316.0 1115.8,316.4 1118.8,311.7 1122.0,314.5 1125.0,284.5 1128.0,280.4 1131.2,284.1 1134.2,287.3 1137.2,286.0 1140.4,290.1 1143.4,302.3 1146.4,336.6 1149.4,331.4 1152.6,334.2 1155.6,333.6 1158.6,335.1 1161.8,354.2 1164.8,338.9 1167.8,324.8 1170.9,327.2 1173.9,344.5 1176.9,368.9 1179.9,408.8 1183.1,445.9 1186.1,432.8 1189.1,451.9 1192.3,471.0 1195.3,471.6"/>
<line x1="1205" y1="100" x2="1205" y2="656" stroke="#111" stroke-width="1.7"/>
<text class="yr" x="1217.5" y="115.40" textLength="25.5" lengthAdjust="spacingAndGlyphs">$5K</text>
<text class="yr" x="1217.5" y="159.15" textLength="37.5" lengthAdjust="spacingAndGlyphs">$4.5K</text>
<text class="yr" x="1217.5" y="209.65" textLength="25.5" lengthAdjust="spacingAndGlyphs">$4K</text>
<text class="yr" x="1217.5" y="266.65" textLength="37.5" lengthAdjust="spacingAndGlyphs">$3.5K</text>
<text class="yr" x="1217.5" y="332.50" textLength="25.5" lengthAdjust="spacingAndGlyphs">$3K</text>
<text class="yr" x="1217.5" y="409.90" textLength="37.5" lengthAdjust="spacingAndGlyphs">$2.5K</text>
<text class="yr" x="1217.5" y="504.65" textLength="25.5" lengthAdjust="spacingAndGlyphs">$2K</text>
<text class="yr" x="1217.5" y="626.90" textLength="37.5" lengthAdjust="spacingAndGlyphs">$1.5K</text>
<rect x="20.5" y="471" width="53.5" height="30" fill="#d62728"/>
<text x="25.5" y="493" font-size="16.5" fill="#fff" textLength="43.5" lengthAdjust="spacingAndGlyphs">0.944*</text>
<rect x="1205" y="454.5" width="47.3" height="29.3" fill="#111"/>
<text x="1209.7" y="475.8" font-size="16.5" fill="#fff" textLength="37.5" lengthAdjust="spacingAndGlyphs">$2.1K</text>
<text x="1088.3" y="702" font-size="10.5" fill="#6b6b6b" textLength="160" lengthAdjust="spacingAndGlyphs">© CryptoQuant. All rights reserved</text>
</svg></body></html>
